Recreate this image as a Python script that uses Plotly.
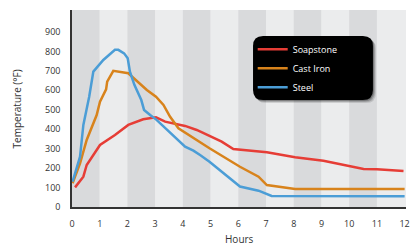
import plotly.graph_objects as go

# Data
soap_h = [0.11, 0.41, 0.53, 1.01, 1.55, 2.03, 2.57, 3.03, 3.36, 4.08, 4.5, 4.96, 5.4, 5.82, 7.03, 8.05, 9.07, 10.52, 11.0, 11.96]
soap_t = [101, 156, 216, 319, 370, 422, 451, 461, 439, 417, 396, 365, 336, 298, 281, 256, 238, 195, 194, 185]

iron_h = [0.02, 0.29, 0.53, 0.89, 1.01, 1.23, 1.27, 1.49, 2.03, 2.7, 3.03, 3.3, 3.54, 3.84, 4.96, 6.06, 6.73, 7.03, 8.05, 9.0, 12.0]
iron_t = [122, 225, 345, 473, 542, 605, 645, 700, 688, 602, 567, 525, 464, 405, 302, 207, 156, 113, 93, 92, 93]

steel_h = [0.02, 0.29, 0.41, 0.62, 0.77, 1.13, 1.55, 1.67, 1.88, 2.01, 2.09, 2.25, 2.5, 2.6, 2.82, 3.05, 4.08, 4.38, 4.62, 4.96, 6.06, 6.73, 7.2, 12.0]
steel_t = [130, 259, 422, 567, 696, 756, 808, 808, 790, 765, 696, 628, 550, 499, 473, 448, 310, 290, 267, 233, 105, 84, 57, 55]

x_ticks = list(range(0, 13))
y_ticks = list(range(0, 1000, 100))

series = [
    ("Soapstone", soap_h, soap_t, "#e63d36"),
    ("Cast Iron", iron_h, iron_t, "#d8831c"),
    ("Steel", steel_h, steel_t, "#4b9dd6"),
]

fig = go.Figure()
for name, xs, ys, col in series:
    fig.add_trace(go.Scatter(x=xs, y=ys, mode="lines", name=name,
                             line=dict(color=col, width=2.5)))

shapes = []
# alternating bands
for h in range(0, 12):
    shapes.append(dict(type="rect", xref="x", yref="paper", x0=h, x1=h + 1, y0=0, y1=1,
                       fillcolor="#d9dadc" if h % 2 == 0 else "#ebeced",
                       line=dict(width=0), layer="below"))

def rounded(x0, y0, x1, y1, r):
    rx = r
    ry = r * 334 / 197
    return (f"M{x0+rx},{y0} L{x1-rx},{y0} Q{x1},{y0} {x1},{y0+ry} "
            f"L{x1},{y1-ry} Q{x1},{y1} {x1-rx},{y1} L{x0+rx},{y1} "
            f"Q{x0},{y1} {x0},{y1-ry} L{x0},{y0+ry} Q{x0},{y0} {x0+rx},{y0} Z")

bx0, bx1, by0, by1 = 0.542, 0.901, 0.543, 0.868
for i, op in enumerate([0.12, 0.18, 0.25]):
    d = 0.009 - i * 0.003
    shapes.append(dict(type="path", xref="paper", yref="paper",
                       path=rounded(bx0 + d, by0 - d * 1.7, bx1 + d, by1 - d * 1.7, 0.03),
                       fillcolor=f"rgba(0,0,0,{op})", line=dict(width=0), layer="above"))
shapes.append(dict(type="path", xref="paper", yref="paper",
                   path=rounded(bx0, by0, bx1, by1, 0.03),
                   fillcolor="#000000", line=dict(width=0), layer="above"))

fig.update_layout(
    width=411, height=245,
    margin=dict(l=72, r=5, t=10, b=38, autoexpand=False),
    paper_bgcolor="white", plot_bgcolor="#ebeced",
    font=dict(family="Open Sans", size=9, color="#333333"),
    shapes=shapes,
    showlegend=True,
    legend=dict(x=0.541, y=0.875, xanchor="left", yanchor="top",
                bgcolor="rgba(0,0,0,0)", font=dict(color="white", size=9, family="Open Sans")),
    xaxis=dict(range=[0, 12.05], tickvals=x_ticks, ticktext=[str(v) for v in x_ticks],
               showgrid=False, zeroline=False, showline=True, linecolor="#333333", linewidth=1.5,
               ticks="outside", ticklen=7, tickcolor="rgba(0,0,0,0)", automargin=False),
    yaxis=dict(range=[0, 1013], tickvals=y_ticks, ticktext=[str(v) for v in y_ticks],
               showgrid=False, zeroline=False, showline=True, linecolor="#333333", linewidth=1.5,
               ticks="outside", ticklen=8, tickcolor="rgba(0,0,0,0)", automargin=False),
    annotations=[
        dict(text="Hours", xref="paper", yref="paper", x=0.5, y=-0.16, yanchor="middle",
             xanchor="center", showarrow=False, font=dict(size=10)),
        dict(text="Temperature (°F)", xref="paper", yref="paper", x=-0.165, y=0.5,
             xanchor="center", yanchor="middle", textangle=-90, showarrow=False,
             font=dict(size=10)),
    ],
)

fig.write_html("out.html", config={"displayModeBar": False},
               post_script="document.body.style.margin='0';")
